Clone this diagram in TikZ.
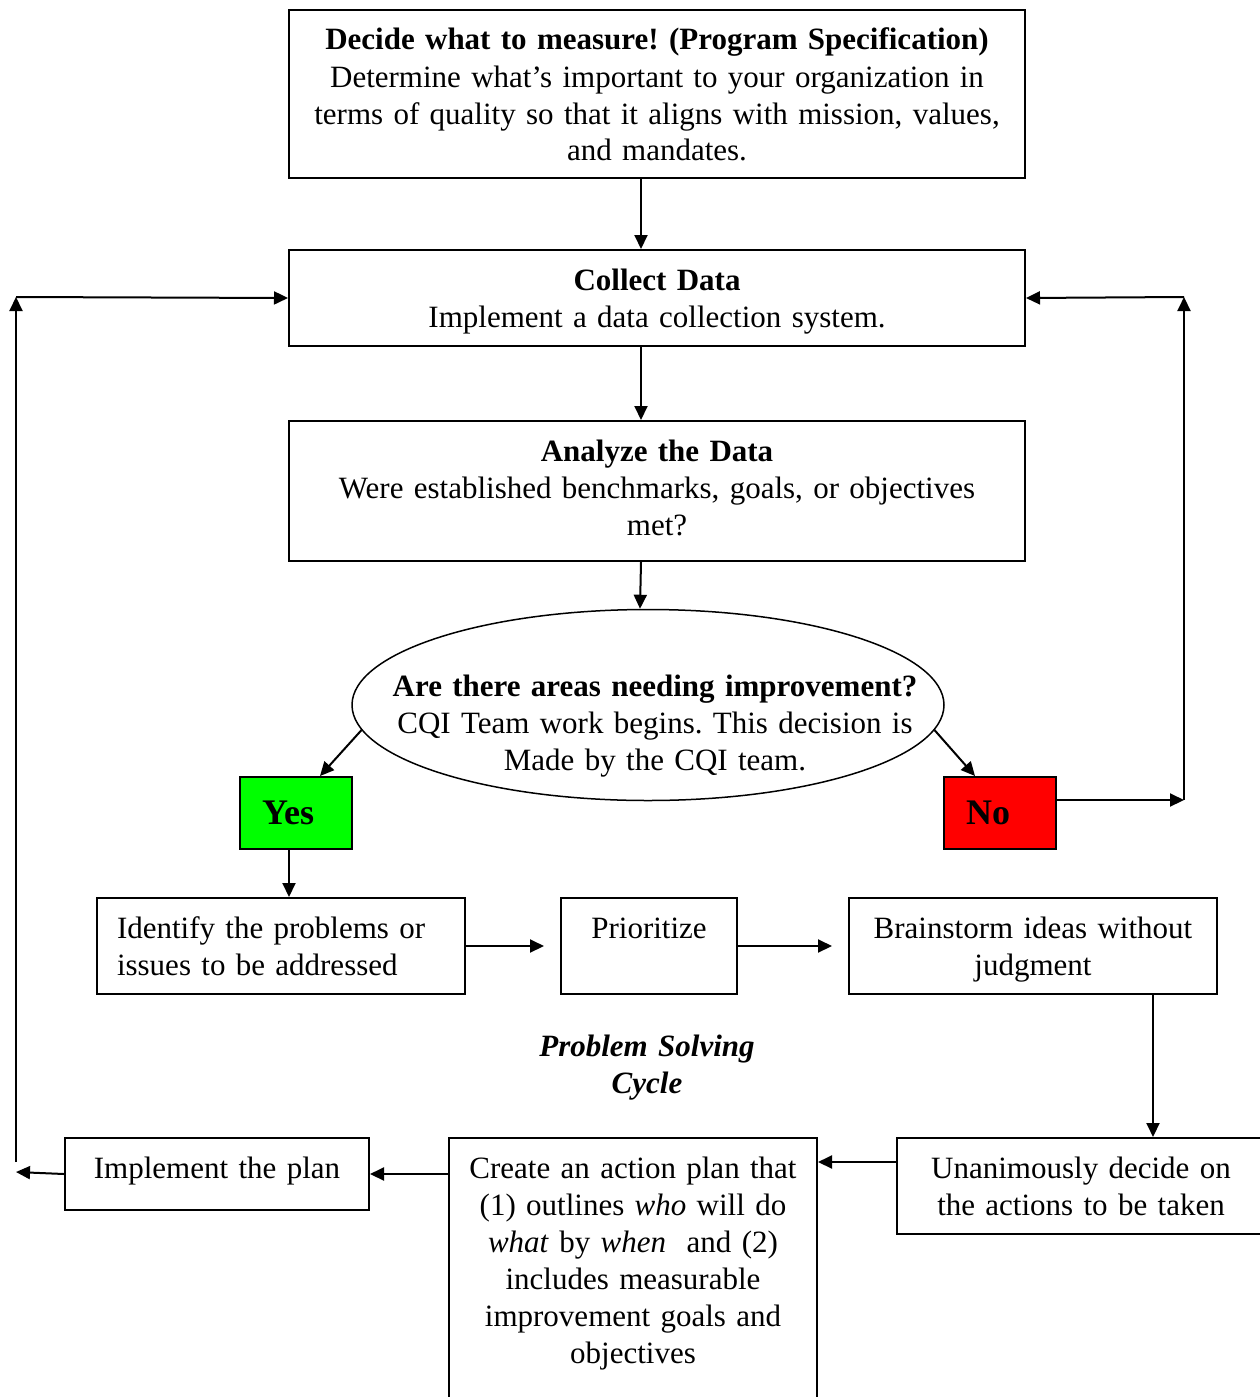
\documentclass[tikz,border=0pt]{standalone}
\usepackage{fontspec}
\setmainfont{Liberation Serif}
\frenchspacing
\usetikzlibrary{arrows.meta,shapes.geometric}
\tikzset{
  box/.style={draw, line width=2pt, anchor=north west, inner xsep=0pt, inner ysep=0pt, align=center, text height=40pt},
  arr/.style={line width=2pt, -{Triangle[length=14pt,width=13pt]}},
  answer/.style={draw, line width=2pt, minimum height=72pt, inner ysep=0pt, inner xsep=22pt, text width=68pt, align=left, font=\fontsize{36}{40}\selectfont\bfseries}
}
\begin{document}
\begin{tikzpicture}[x=1pt,y=-1pt,font=\fontsize{31}{37}\selectfont]
\path[fill=white,use as bounding box] (0,0) rectangle (1259,1397);
% top part
\node[box, text width=736pt, text depth=128pt] (decide) at (288,9) {\textbf{Decide what to measure! (Program Specification)}\\Determine what's important to your organization in\\terms of quality so that it aligns with mission, values,\\and mandates.};
\node[box, text width=736pt, text depth=56pt] (collect) at (288,249) {\textbf{Collect Data}\\Implement a data collection system.};
\node[box, text width=736pt, text depth=100pt] (analyze) at (288,420) {\textbf{Analyze the Data}\\Were established benchmarks, goals, or objectives\\met?};
\node[ellipse, draw, line width=1.5pt, minimum width=592pt, minimum height=191pt, inner sep=0pt] (areas) at (648,705) {};
\node[align=center, text width=580pt, anchor=base] (areastext) at (655,696) {\textbf{Are there areas needing improvement?}\\CQI Team work begins. This decision is\\Made by the CQI team.};
\node[answer, fill={rgb,255:red,0;green,255;blue,0}] (yes) at (296,813) {Yes};
\node[answer, fill={rgb,255:red,255;green,0;blue,0}] (no) at (1000,813) {No};
% problem solving cycle
\node[box, align=left, inner xsep=20pt, text width=328pt, text depth=56pt] (identify) at (96,897) {Identify the problems or\\issues to be addressed};
\node[box, text width=176pt, text depth=56pt] (prioritize) at (560,897) {Prioritize};
\node[box, text width=368pt, text depth=56pt] (brainstorm) at (848,897) {Brainstorm ideas without\\judgment};
\node[align=center, text width=300pt, anchor=base, font=\fontsize{31}{37}\selectfont\bfseries\itshape] (cycle) at (647,1056) {Problem Solving\\Cycle};
\node[box, text width=368pt, text depth=56pt] (agree) at (896,1137) {Unanimously decide on\\the actions to be taken};
\node[box, text width=368pt, text depth=260pt] (plan) at (448,1137) {Create an action plan that\\(1) outlines \textit{who} will do\\\textit{what} by \textit{when}\ \ and (2)\\includes measurable\\improvement goals and\\objectives};
\node[box, text width=304pt, text depth=32pt] (implement) at (64,1137) {Implement the plan};
\coordinate (rbot) at (1184,800);
\coordinate (rtop) at (1184,297);
\coordinate (lbot) at (16,1172);
\coordinate (ltop) at (16,297);
% connectors
\draw[arr] ([xshift=-16pt]decide.south) -- ([xshift=-16pt]collect.north);
\draw[arr] ([xshift=-16pt]collect.south) -- ([xshift=-16pt]analyze.north);
\draw[arr] ([xshift=-16pt]analyze.south) -- ([xshift=-8pt]areas.north);
\draw[arr] (areas.185) -- ([xshift=24pt]yes.north);
\draw[arr] (areas.-5) -- ([xshift=-25pt]no.north);
\draw[arr] ([yshift=13pt]no.east) -- (rbot);
\draw[arr] (rbot) -- (rtop);
\draw[arr] (rtop) -- (collect.east);
\draw[arr] ([xshift=-7pt]yes.south) -- ([xshift=-7pt]yes.south |- identify.north);
\draw[arr] (identify.east) -- ([xshift=-16pt]prioritize.west);
\draw[arr] (prioritize.east) -- ([xshift=-16pt]brainstorm.west);
\draw[arr] ([xshift=120pt]brainstorm.south) -- ([xshift=120pt]brainstorm.south |- agree.north);
\draw[arr] ([yshift=24pt]agree.west) -- ([yshift=24pt]agree.west -| plan.east);
\draw[arr] (implement.east -| plan.west) -- (implement.east);
\draw[arr] (implement.west) -- (lbot);
\draw[arr] ([yshift=10pt]lbot) -- (ltop);
\draw[arr] (ltop) -- (collect.west);
\end{tikzpicture}
\end{document}
